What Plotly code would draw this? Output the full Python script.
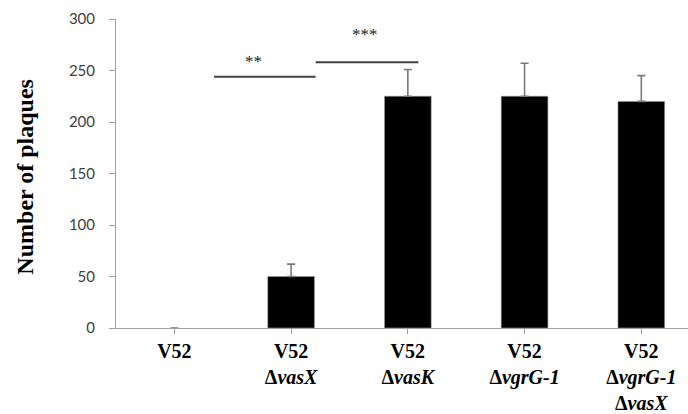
import plotly.graph_objects as go

categories = ["V52", "V52 ΔvasX", "V52 ΔvasK", "V52 ΔvgrG-1", "V52 ΔvgrG-1 ΔvasX"]
tick_labels = [
    "<b>V52</b><br> <br> ",
    "<b>V52</b><br><b>Δ<i>vasX</i></b><br> ",
    "<b>V52</b><br><b>Δ<i>vasK</i></b><br> ",
    "<b>V52</b><br><b>Δ<i>vgrG-1</i></b><br> ",
    "<b>V52</b><br><b>Δ<i>vgrG-1</i></b><br><b>Δ<i>vasX</i></b>",
]
plaques = [0, 50, 225, 225, 220]
errors = [0, 12, 26, 32, 25]

# significance brackets: (x0, x1, y, label, label_x, label_y)
sig_lines = [
    (0.34, 1.21, 244, "**", 0.68, 259),
    (1.21, 2.09, 258, "***", 1.63, 285),
]

xs = list(range(len(categories)))

fig = go.Figure()
fig.add_trace(go.Bar(
    x=xs, y=plaques, width=0.4,
    marker=dict(color="black",
                line=dict(color="#9a9a9a", width=[0 if v == 0 else 0.6 for v in plaques])),
    error_y=dict(type="data", array=errors, arrayminus=[0]*len(errors), symmetric=False,
                 color="#7a7a7a", thickness=1.6, width=4),
))

for x0, x1, y, lab, lx, ly in sig_lines:
    fig.add_shape(type="line", x0=x0, x1=x1, y0=y, y1=y, xref="x", yref="y",
                  line=dict(color="#404040", width=2))
    fig.add_annotation(x=lx, y=ly, xref="x", yref="y", text=lab, showarrow=False,
                       font=dict(family="Liberation Serif", size=17, color="#222222"))

fig.add_annotation(x=-0.159, y=0.49, xref="paper", yref="paper", text="<b>Number of plaques</b>",
                   textangle=-90, showarrow=False, xanchor="center", yanchor="middle",
                   font=dict(family="Liberation Serif", size=24, color="black"))

fig.update_layout(
    width=688, height=414,
    margin=dict(l=116, r=0, t=19, b=86),
    paper_bgcolor="white", plot_bgcolor="white",
    showlegend=False,
    xaxis=dict(
        range=[-0.5, 4.40], tickmode="array", tickvals=xs, ticktext=tick_labels,
        tickson="boundaries", ticks="outside", ticklen=5, tickcolor="#a0a0a0",
        showline=True, linecolor="#a0a0a0", linewidth=1, showgrid=False, zeroline=False,
        tickfont=dict(family="Liberation Serif", size=20, color="black"),
        automargin=False,
    ),
    yaxis=dict(
        range=[0, 300], tickvals=[0, 50, 100, 150, 200, 250, 300],
        ticks="outside", ticklen=6, tickcolor="#a0a0a0",
        showline=True, linecolor="#a0a0a0", linewidth=1, showgrid=False, zeroline=False,
        tickfont=dict(family="Lato", size=15, color="#404040"),
        ticklabelstandoff=11, automargin=False,
    ),
)

fig.write_html("out.html", config={"displayModeBar": False},
               post_script="document.body.style.margin='0px';document.body.style.overflow='hidden';")
